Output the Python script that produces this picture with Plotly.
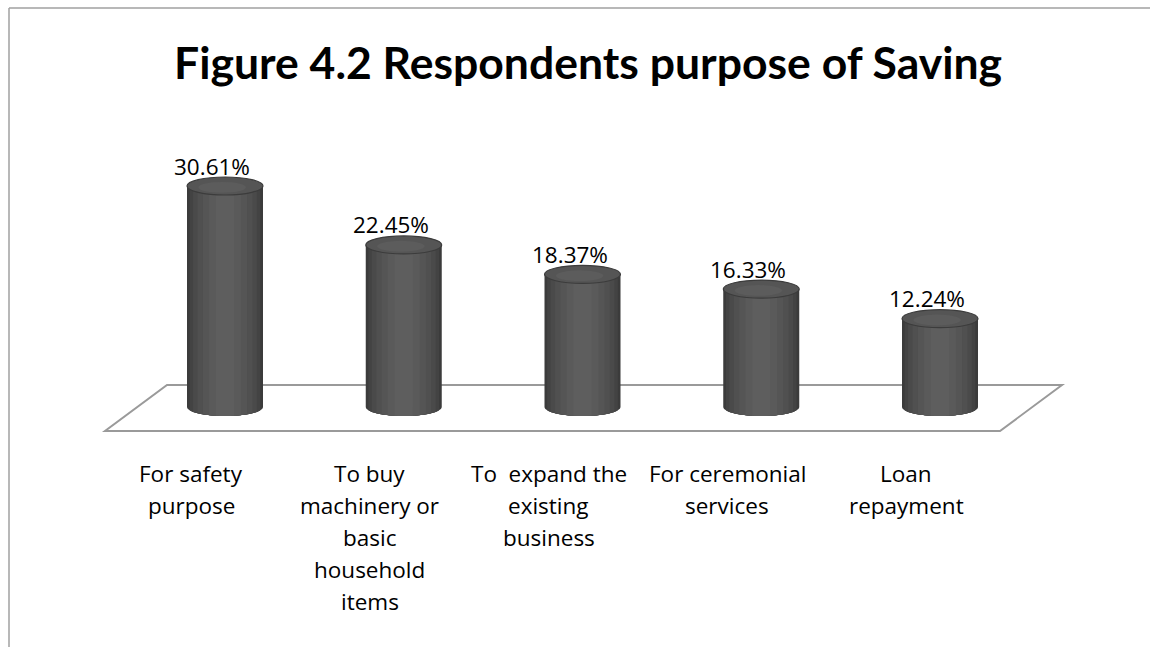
import numpy as np
import plotly.graph_objects as go

# ---------------- data ----------------
categories = [
    "For safety<br>purpose",
    "To buy<br>machinery or<br>basic<br>household<br>items",
    "To\u00a0 expand the<br>existing<br>business",
    "For ceremonial<br>services",
    "Loan<br>repayment",
]
values = [30.61, 22.45, 18.37, 16.33, 12.24]
value_labels = ["30.61%", "22.45%", "18.37%", "16.33%", "12.24%"]
title_text = "Figure 4.2 Respondents purpose of Saving"

# ---------------- layout constants ----------------
W, H = 1150, 647
PX_PER_CAT = 178.75
PX_PER_PCT = 7.22
X_ORIGIN_PX = 225
BASE_PX = 407
TITLE_FONT = "Lato"
LABEL_FONT = "Open Sans"

x_range = [-X_ORIGIN_PX / PX_PER_CAT, (W - X_ORIGIN_PX) / PX_PER_CAT]
y_range = [-(H - BASE_PX) / PX_PER_PCT, BASE_PX / PX_PER_PCT]

BW = 76 / PX_PER_CAT          # cylinder width in category units
A = BW / 2                    # ellipse half width
RY = 9.0 / PX_PER_PCT         # ellipse half height in % units

positions = list(range(len(values)))

strips = [
    (1.00, "#3b3b3b"),
    (0.93, "#434343"),
    (0.84, "#4a4a4a"),
    (0.72, "#505050"),
    (0.58, "#555555"),
    (0.42, "#5a5a5a"),
    (0.24, "#5e5e5e"),
]

fig = go.Figure()

for f, col in strips:
    fig.add_trace(go.Bar(
        x=positions, y=values, width=BW * f,
        marker=dict(color=col, line=dict(width=0)),
        hoverinfo="skip", showlegend=False,
    ))

shapes = []

# floor parallelogram (data coords, relative to bar base)
bx_l, bx_r = (167 - X_ORIGIN_PX) / PX_PER_CAT, (1062 - X_ORIGIN_PX) / PX_PER_CAT
fx_l, fx_r = (105 - X_ORIGIN_PX) / PX_PER_CAT, (1000 - X_ORIGIN_PX) / PX_PER_CAT
by, fy = 22 / PX_PER_PCT, -24 / PX_PER_PCT
shapes.append(dict(
    type="path", xref="x", yref="y", layer="below",
    path=f"M {fx_l},{fy} L {fx_r},{fy} L {bx_r},{by} L {bx_l},{by} Z",
    line=dict(color="#9a9a9a", width=2), fillcolor="rgba(0,0,0,0)",
))

# bottom half-ellipses for each strip
for i in positions:
    for f, col in strips:
        th0 = np.arccos(f)
        th = np.linspace(th0, np.pi - th0, 30)
        xs = i + A * np.cos(th)
        ys = -RY * np.sin(th)
        pts = " L ".join(f"{x:.5f},{y:.5f}" for x, y in zip(xs, ys))
        path = f"M {i + A * f:.5f},0 L {pts} L {i - A * f:.5f},0 Z"
        shapes.append(dict(type="path", xref="x", yref="y", layer="above",
                           path=path, fillcolor=col, line=dict(width=0)))

# top ellipses
for i, v in zip(positions, values):
    shapes.append(dict(type="circle", xref="x", yref="y", layer="above",
                       x0=i - A, x1=i + A, y0=v - RY, y1=v + RY,
                       fillcolor="#555555", line=dict(color="#3c3c3c", width=1.2)))
    shapes.append(dict(type="circle", xref="x", yref="y", layer="above",
                       x0=i - A * 0.7, x1=i + A * 0.55, y0=v - RY * 0.75, y1=v + RY * 0.45,
                       fillcolor="#5c5c5c", line=dict(width=0)))

# frame (top + left)
shapes.append(dict(type="line", xref="paper", yref="paper",
                   x0=9 / W, x1=1, y0=1 - 8 / H, y1=1 - 8 / H,
                   line=dict(color="#a0a0a0", width=1.5)))
shapes.append(dict(type="line", xref="paper", yref="paper",
                   x0=9 / W, x1=9 / W, y0=0, y1=1 - 8 / H,
                   line=dict(color="#a0a0a0", width=1.5)))

annotations = []
# value labels
for i, v, lab in zip(positions, values, value_labels):
    annotations.append(dict(x=i, y=v, xref="x", yref="y", text=lab,
                            showarrow=False, xshift=-13, yshift=20,
                            yanchor="middle", xanchor="center",
                            font=dict(family=LABEL_FONT, size=22.5, color="#000000")))
# category labels (one annotation per line for Excel-like spacing)
for i, cat in zip(positions, categories):
    for j, line in enumerate(cat.split("<br>")):
        annotations.append(dict(x=i, y=0, xref="x", yref="y", text=line,
                                showarrow=False, xshift=-34, yshift=-(66 + 32 * j),
                                yanchor="middle", xanchor="center",
                                font=dict(family=LABEL_FONT, size=22.5, color="#000000")))
# title
annotations.append(dict(x=588 / W, y=1 - 61 / H, xref="paper", yref="paper",
                        text=f"<b>{title_text}</b>", showarrow=False,
                        xanchor="center", yanchor="middle",
                        font=dict(family=TITLE_FONT, size=44.5, color="#000000")))

fig.update_layout(
    width=W, height=H,
    margin=dict(l=0, r=0, t=0, b=0),
    paper_bgcolor="white", plot_bgcolor="white",
    barmode="overlay",
    xaxis=dict(range=x_range, domain=[0, 1], visible=False, fixedrange=True),
    yaxis=dict(range=y_range, domain=[0, 1], visible=False, fixedrange=True),
    shapes=shapes, annotations=annotations,
    showlegend=False,
)

fig.write_html("out.html")
